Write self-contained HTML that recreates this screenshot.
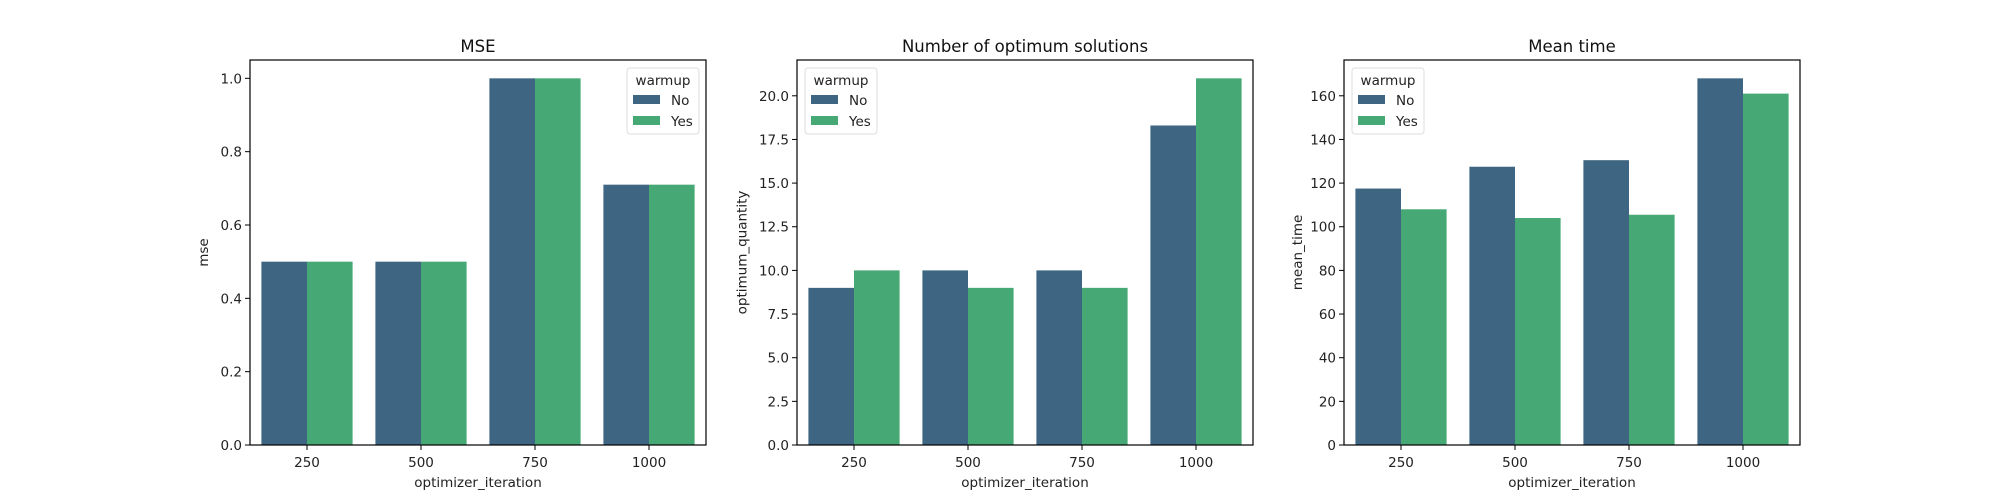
<!DOCTYPE html>
<html><head><meta charset="utf-8"><style>
body{margin:0;background:#fff}
svg{display:block;font-family:"DejaVu Sans","Liberation Sans",sans-serif}
</style></head><body>
<svg id="fig" width="2000" height="500"></svg>
<script>
const categories = ["250","500","750","1000"];
const seriesNames = ["No","Yes"];
const mseNo = [0.5,0.5,1.0,0.71];
const mseYes = [0.5,0.5,1.0,0.71];
const optNo = [9,10,10,18.3];
const optYes = [10,9,9,21];
const timeNo = [117.5,127.5,130.5,168];
const timeYes = [108,104,105.5,161];
const mseTicks = [0.0,0.2,0.4,0.6,0.8,1.0];
const mseTickLabels = ["0.0","0.2","0.4","0.6","0.8","1.0"];
const optTicks = [0,2.5,5,7.5,10,12.5,15,17.5,20];
const optTickLabels = ["0.0","2.5","5.0","7.5","10.0","12.5","15.0","17.5","20.0"];
const timeTicks = [0,20,40,60,80,100,120,140,160];
const timeTickLabels = ["0","20","40","60","80","100","120","140","160"];

const NS="http://www.w3.org/2000/svg";
const svg=document.getElementById('fig');
const colors=["#3e6683","#46a875"];
function mk(tag,attrs,parent){const e=document.createElementNS(NS,tag);for(const k in attrs)e.setAttribute(k,attrs[k]);(parent||svg).appendChild(e);return e;}

function panel(name,left,title,ylabel,no,yes,ticks,tickLabels,ymax,legendRight){
  const top=60,bottom=445,W=456;
  const g=mk('g',{});
  
  
  const y=v=>bottom-(v/ymax)*(bottom-top);
  const bw=W/categories.length;
  const x=i=>left+bw*i+bw/2;
  const barW=bw*0.8/2;
  [no,yes].forEach((vals,s)=>{
    vals.forEach((v,i)=>{
      const r=mk('rect',{x:x(i)-barW+s*barW,y:y(v),width:barW,height:bottom-y(v),fill:colors[s]},g);
      
      
    });
  });
  const frame=mk('rect',{x:left,y:top,width:W,height:bottom-top,fill:'none',stroke:'#000','stroke-width':1.2},g);
  
  
  ticks.forEach((t,i)=>{
    mk('line',{x1:left-5,x2:left,y1:y(t),y2:y(t),stroke:'#000','stroke-width':1},g);
    const tx=mk('text',{x:left-8,y:y(t)+5,'text-anchor':'end','font-size':13.5,fill:'#222'},g);
    tx.textContent=tickLabels[i];
    
    
  });
  categories.forEach((c,i)=>{
    mk('line',{x1:x(i),x2:x(i),y1:bottom,y2:bottom+5,stroke:'#000','stroke-width':1},g);
    const tx=mk('text',{x:x(i),y:bottom+22,'text-anchor':'middle','font-size':13.5,fill:'#222'},g);
    tx.textContent=c;
    
    
  });
  const xl=mk('text',{x:left+W/2,y:487,'text-anchor':'middle','font-size':13.5,fill:'#222'},g);
  xl.textContent='optimizer_iteration';
  
  
  const yl=mk('text',{x:0,y:0,'text-anchor':'middle','font-size':13.5,fill:'#222',transform:`translate(${left-ylabelOff(ticks,tickLabels)},${(top+bottom)/2}) rotate(-90)`},g);
  yl.textContent=ylabel;
  
  
  const tt=mk('text',{x:left+W/2,y:52,'text-anchor':'middle','font-size':16.5,fill:'#111'},g);
  tt.textContent=title;
  
  
  const lw=72,lx=legendRight?left+W-7-lw:left+8,ly=68;
  const lg=mk('g',{},g);
  
  
  mk('rect',{x:lx,y:ly,width:lw,height:66,rx:3,fill:'#fff','fill-opacity':0.8,stroke:'#ddd'},lg);
  const lt=mk('text',{x:lx+lw/2,y:ly+17,'text-anchor':'middle','font-size':13.5,fill:'#222'},lg);
  lt.textContent='warmup';
  seriesNames.forEach((s,i)=>{
    const e=mk('g',{},lg);
    
    
    mk('rect',{x:lx+6,y:ly+27+i*21,width:27,height:9,fill:colors[i]},e);
    const t=mk('text',{x:lx+44,y:ly+37+i*21,'font-size':13.5,fill:'#222'},e);
    t.textContent=s;
  });
}
function ylabelOff(ticks,labels){const m=Math.max(...labels.map(l=>l.length));return 10+m*8.6+6;}

panel('mse',250,'MSE','mse',mseNo,mseYes,mseTicks,mseTickLabels,1.05,true);
panel('optimum',797,'Number of optimum solutions','optimum_quantity',optNo,optYes,optTicks,optTickLabels,22.05,false);
panel('time',1344,'Mean time','mean_time',timeNo,timeYes,timeTicks,timeTickLabels,176.4,false);
</script>
</body></html>
